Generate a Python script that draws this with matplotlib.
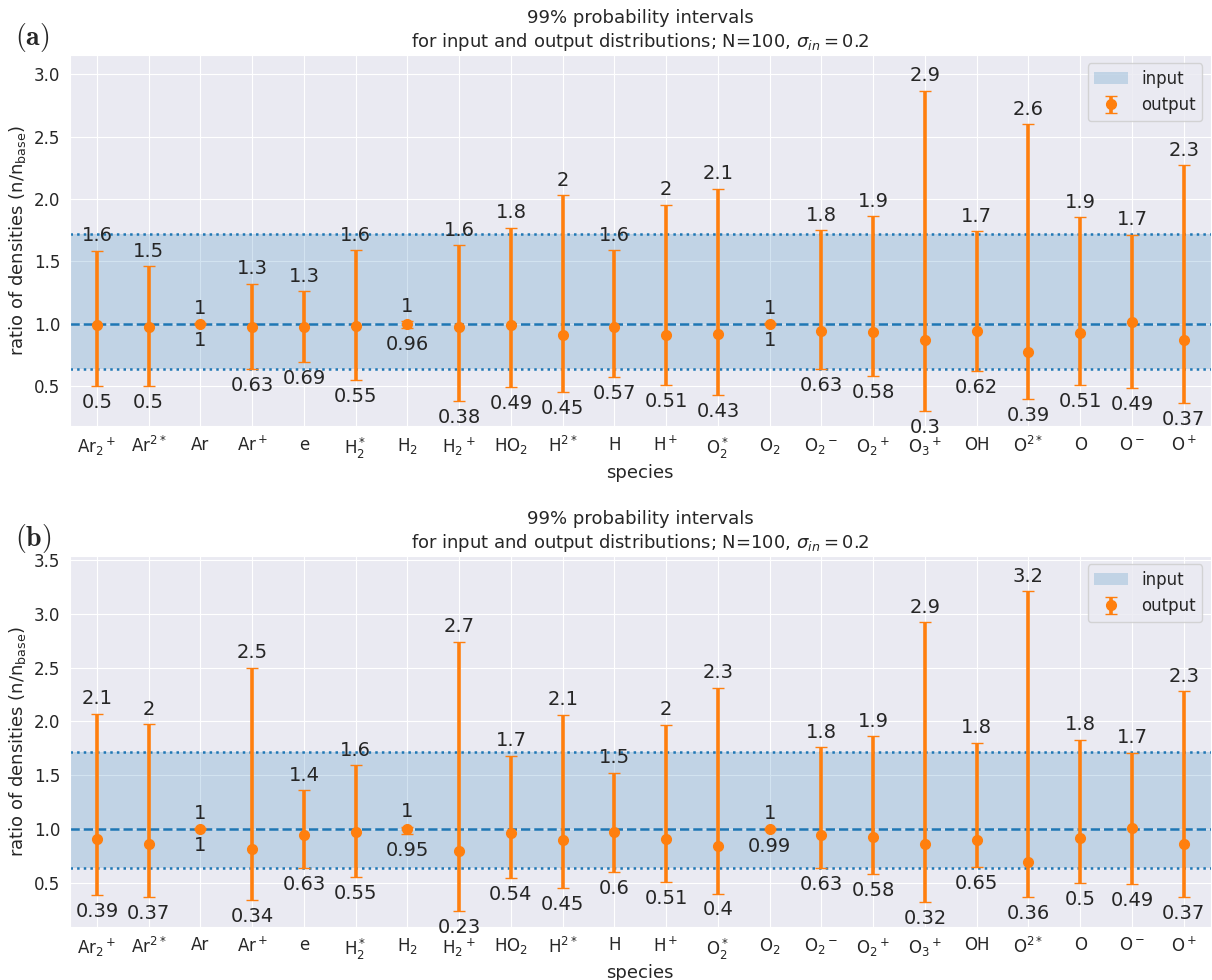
import matplotlib
matplotlib.use("Agg")
import matplotlib.pyplot as plt
import seaborn as sns
import numpy as np

species = [r"Ar$_2$$^+$", r"Ar$^{2*}$", "Ar", r"Ar$^+$", "e", r"H$_2^*$", r"H$_2$",
           r"H$_2$$^+$", r"HO$_2$", r"H$^{2*}$", "H", r"H$^+$", r"O$_2^*$", r"O$_2$",
           r"O$_2$$^-$", r"O$_2$$^+$", r"O$_3$$^+$", "OH", r"O$^{2*}$", "O", r"O$^-$", r"O$^+$"]

# panel (a)
mid_a = [0.99, 0.97, 1.0, 0.97, 0.97, 0.98, 1.0, 0.97, 0.99, 0.91, 0.97,
         0.91, 0.92, 1.0, 0.94, 0.93, 0.87, 0.94, 0.77, 0.925, 1.015, 0.87]
upper_a = [1.585, 1.46, 1.005, 1.32, 1.26, 1.59, 1.02, 1.63, 1.77, 2.03, 1.59,
           1.955, 2.08, 1.005, 1.75, 1.86, 2.87, 1.74, 2.60, 1.855, 1.715, 2.27]
lower_a = [0.50, 0.50, 0.998, 0.634, 0.692, 0.55, 0.963, 0.384, 0.49, 0.45, 0.57,
           0.51, 0.43, 0.998, 0.634, 0.58, 0.30, 0.62, 0.394, 0.505, 0.488, 0.366]

# panel (b)
mid_b = [0.907, 0.863, 1.0, 0.81, 0.945, 0.97, 1.0, 0.795, 0.96, 0.90, 0.97,
         0.91, 0.84, 1.0, 0.94, 0.93, 0.86, 0.90, 0.69, 0.92, 1.01, 0.86]
upper_b = [2.07, 1.973, 1.005, 2.50, 1.36, 1.59, 1.02, 2.74, 1.68, 2.06, 1.52,
           1.97, 2.31, 1.005, 1.76, 1.86, 2.92, 1.80, 3.21, 1.83, 1.71, 2.28]
lower_b = [0.387, 0.368, 0.998, 0.342, 0.634, 0.55, 0.95, 0.234, 0.54, 0.45, 0.60,
           0.51, 0.40, 0.99, 0.634, 0.58, 0.32, 0.65, 0.364, 0.50, 0.49, 0.37]

input_low = 0.637
input_high = 1.717

sns.set_style("darkgrid")
plt.rcParams["font.family"] = ["DejaVu Sans"]

blue = "#1f77b4"
orange = "#ff7f0e"

fig = plt.figure(figsize=(12.12, 9.8), dpi=100)
ax_a = fig.add_axes([0.0578, 0.5653, 0.941, 0.3786])
ax_b = fig.add_axes([0.0578, 0.0544, 0.941, 0.3783])

title = "99% probability intervals\nfor input and output distributions; N=100, $\\sigma_{in} = 0.2$"


def draw_panel(ax, mid, upper, lower, ylim, ticks):
    x = np.arange(len(species))
    mid = np.array(mid)
    upper = np.array(upper)
    lower = np.array(lower)
    ax.set_xlim(-0.52, len(species) - 0.48)
    ax.fill_between([-1, len(species)], input_low, input_high, color=blue, alpha=0.2,
                    linewidth=0, label="input")
    ax.axhline(1.0, color=blue, ls="--", lw=1.8)
    ax.axhline(input_low, color=blue, ls=":", lw=1.8)
    ax.axhline(input_high, color=blue, ls=":", lw=1.8)
    ax.errorbar(x, mid, yerr=[mid - lower, upper - mid], fmt="o", color=orange,
                ms=7, elinewidth=2.6, capsize=4.5, capthick=1, label="output")
    for xi, lo, hi in zip(x, lower, upper):
        ax.annotate(f"{hi:.2g}", (xi, hi), xytext=(0, 4), textcoords="offset points",
                    ha="center", va="bottom", fontsize=14, color="#262626")
        ax.annotate(f"{lo:.2g}", (xi, lo), xytext=(0, -5), textcoords="offset points",
                    ha="center", va="top", fontsize=14, color="#262626")
    ax.set_ylim(*ylim)
    ax.set_yticks(ticks)
    ax.set_xticks(x)
    ax.set_xticklabels(species, fontsize=12)
    ax.tick_params(axis="y", labelsize=12)
    ax.set_xlabel("species", fontsize=13, labelpad=2)
    ax.set_ylabel(r"ratio of densities (n/n$_{\mathrm{base}}$)", fontsize=13)
    ax.set_title(title, fontsize=13, pad=6)
    ax.legend(loc="upper right", fontsize=12)


draw_panel(ax_a, mid_a, upper_a, lower_a, (0.18, 3.155), [0.5, 1.0, 1.5, 2.0, 2.5, 3.0])
draw_panel(ax_b, mid_b, upper_b, lower_b, (0.092, 3.537), [0.5, 1.0, 1.5, 2.0, 2.5, 3.0, 3.5])

fig.text(0.012, 0.954, r"$\mathbf{(a)}$", fontsize=20, math_fontfamily="cm")
fig.text(0.012, 0.443, r"$\mathbf{(b)}$", fontsize=20, math_fontfamily="cm")

fig.savefig("out.png", dpi=100)
